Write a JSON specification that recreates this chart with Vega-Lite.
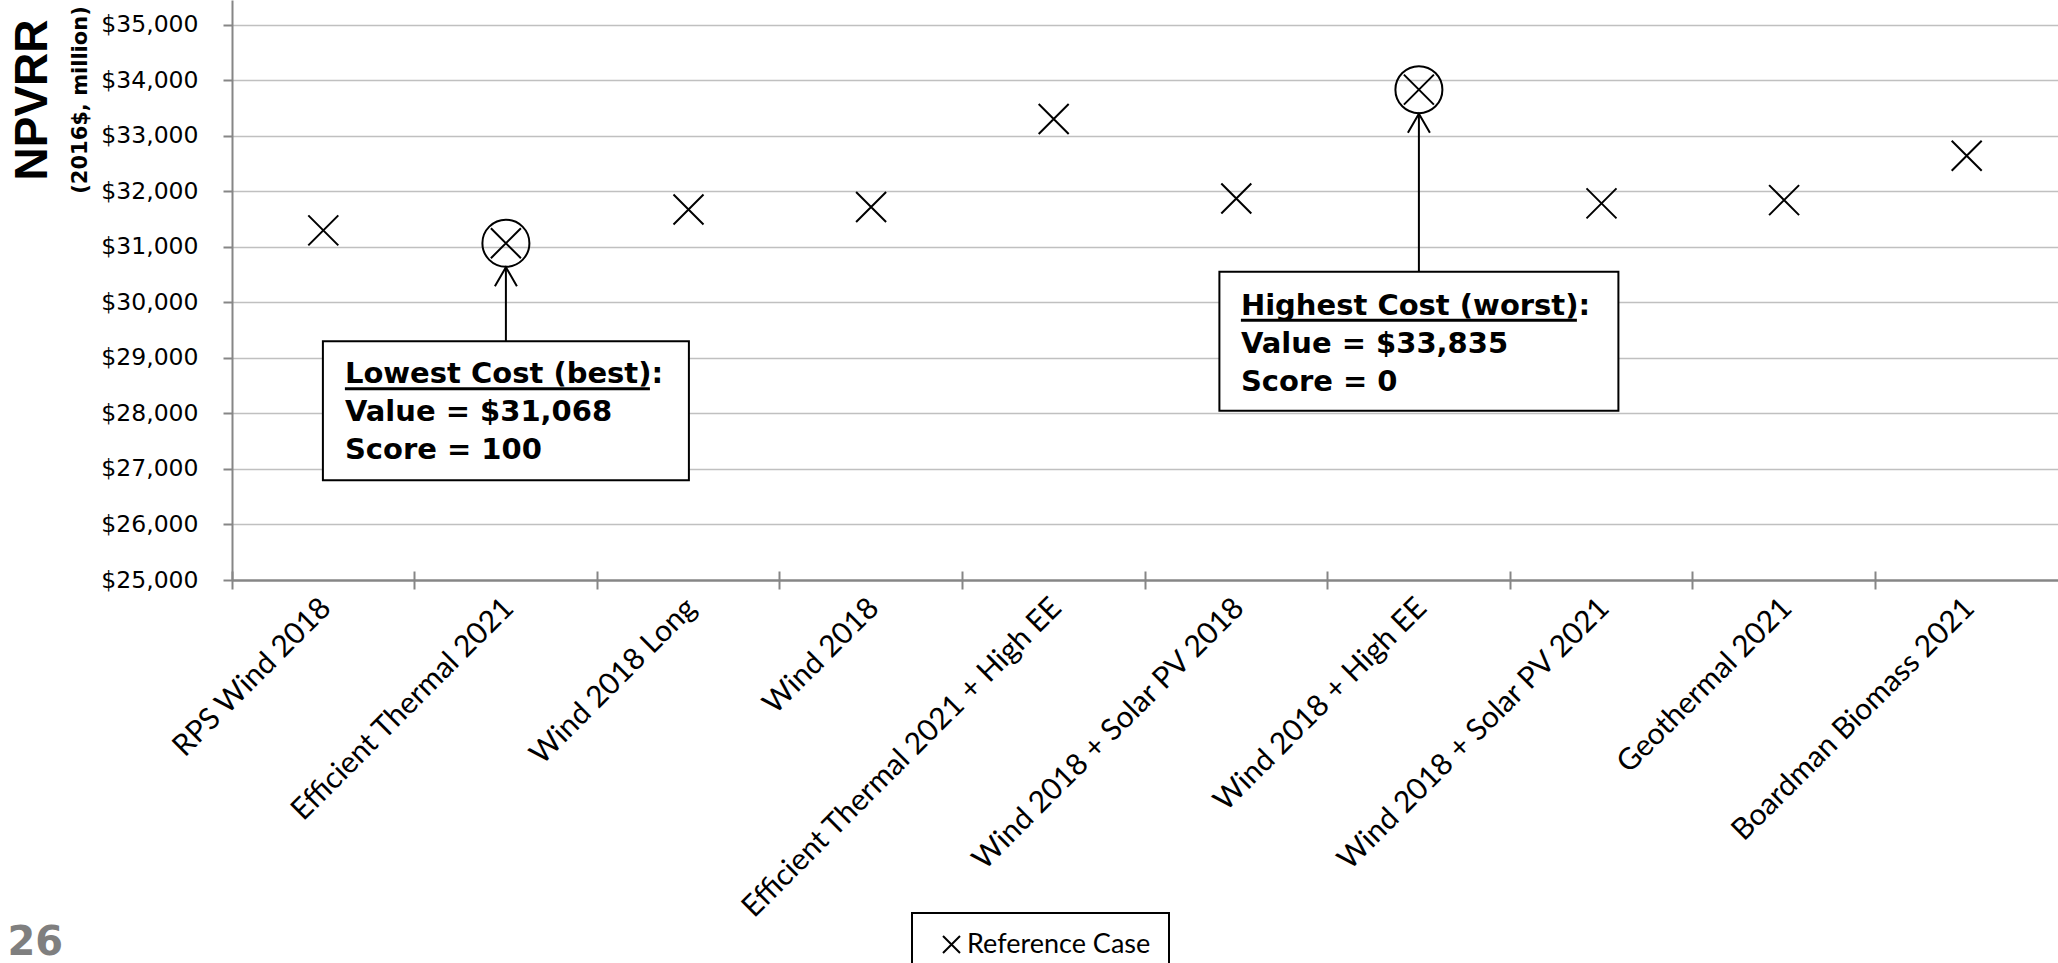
{
  "$schema": "https://vega.github.io/schema/vega-lite/v6.json",
  "width": 1826,
  "height": 580,
  "autosize": "none",
  "padding": {"left": 232, "top": 0, "right": 0, "bottom": 383},
  "background": "white",
  "config": {
    "view": {"stroke": null},
    "font": "DejaVu Sans",
    "legend": {"strokeWidth": 2}
  },
  "title": {
    "text": "NPVRR",
    "subtitle": "(2016$, million)",
    "orient": "left",
    "anchor": "middle",
    "frame": "group",
    "font": "Liberation Sans",
    "fontSize": 46,
    "fontWeight": "bold",
    "color": "black",
    "subtitleFont": "DejaVu Sans",
    "subtitleFontSize": 21,
    "subtitleFontWeight": "bold",
    "subtitleColor": "black",
    "subtitlePadding": 13,
    "offset": -85,
    "dx": 190
  },
  "data": {
    "values": [
      {"case": "RPS Wind 2018", "npvrr": 31300},
      {"case": "Efficient Thermal 2021", "npvrr": 31068},
      {"case": "Wind 2018 Long", "npvrr": 31675},
      {"case": "Wind 2018", "npvrr": 31720},
      {"case": "Efficient Thermal 2021 + High EE", "npvrr": 33305},
      {"case": "Wind 2018 + Solar PV 2018", "npvrr": 31875},
      {"case": "Wind 2018 + High EE", "npvrr": 33835},
      {"case": "Wind 2018 + Solar PV 2021", "npvrr": 31785},
      {"case": "Geothermal 2021", "npvrr": 31845},
      {"case": "Boardman Biomass 2021", "npvrr": 32645}
    ]
  },
  "encoding": {
    "x": {
      "field": "case",
      "type": "nominal",
      "sort": null,
      "scale": {"paddingInner": 0, "paddingOuter": 0},
      "axis": {
        "bandPosition": 0,
        "offset": -9,
        "domain": false,
        "grid": false,
        "tickSize": 18,
        "tickColor": "#868686",
        "tickWidth": 2,
        "labelAngle": -45,
        "labelAlign": "right",
        "labelBaseline": "middle",
        "labelFont": "Lato",
        "labelFontSize": 30,
        "labelColor": "black",
        "labelPadding": 14,
        "labelOffset": 3,
        "labelLimit": 1000,
        "labelOverlap": false,
        "labelBound": false,
        "title": "26",
        "titleX": -225,
        "titleY": 383,
        "titleAlign": "left",
        "titleAngle": 0,
        "titleBaseline": "alphabetic",
        "titleFont": "DejaVu Sans",
        "titleFontSize": 40,
        "titleFontWeight": "bold",
        "titleColor": "#7f7f7f"
      }
    },
    "y": {
      "field": "npvrr",
      "type": "quantitative",
      "scale": {"domain": [25000, 35450], "nice": false, "zero": false},
      "axis": {
        "title": null,
        "values": [25000, 26000, 27000, 28000, 29000, 30000, 31000, 32000, 33000, 34000, 35000],
        "format": "$,.0f",
        "labelFont": "DejaVu Sans",
        "labelFontSize": 23.5,
        "labelColor": "black",
        "labelPadding": 25,
        "tickSize": 9,
        "tickColor": "#868686",
        "tickWidth": 2,
        "domainColor": "#868686",
        "domainWidth": 2,
        "gridColor": {"condition": {"test": "datum.value === 25000", "value": "#868686"}, "value": "#c0c0c0"},
        "gridWidth": {"condition": {"test": "datum.value === 25000", "value": 2.5}, "value": 1.5}
      }
    }
  },
  "layer": [
    {
      "mark": {"type": "point", "filled": false, "stroke": "black", "strokeWidth": 2, "size": 900, "opacity": 1},
      "encoding": {
        "shape": {
          "datum": "Reference Case",
          "scale": {"range": ["M-1,-1L1,1M-1,1L1,-1"]},
          "legend": {
            "title": null,
            "orient": "none",
            "legendX": 680,
            "legendY": 913,
            "strokeColor": "black",
            "fillColor": "white",
            "padding": 18,
            "symbolSize": 289,
            "symbolStrokeWidth": 2,
            "symbolStrokeColor": "black",
            "symbolFillColor": "transparent",
            "symbolOffset": 8,
            "labelFont": "Lato",
            "labelFontSize": 27,
            "labelColor": "black",
            "labelOffset": 2,
            "labelLimit": 600
          }
        }
      }
    },
    {
      "transform": [
        {"joinaggregate": [
          {"op": "min", "field": "npvrr", "as": "lo"},
          {"op": "max", "field": "npvrr", "as": "hi"}
        ]},
        {"filter": "datum.npvrr === datum.lo || datum.npvrr === datum.hi"},
        {"calculate": "round(100 * (datum.hi - datum.npvrr) / (datum.hi - datum.lo))", "as": "score"},
        {"calculate": "[datum.npvrr === datum.lo ? 'Lowest Cost (best):' : 'Highest Cost (worst):', 'Value = ' + format(datum.npvrr, '$,.0f'), 'Score = ' + format(datum.score, 'd')]", "as": "lines"}
      ],
      "layer": [
        {
          "mark": {"type": "point", "shape": "circle", "filled": false, "stroke": "black", "strokeWidth": 2, "size": 2209, "opacity": 1}
        },
        {
          "mark": {"type": "point", "shape": "M-1,1.73L0,0L1,1.73", "filled": false, "stroke": "black", "strokeWidth": 2, "size": 484, "opacity": 1, "yOffset": 24}
        },
        {
          "transform": [{"filter": "datum.npvrr === datum.lo"}],
          "layer": [
            {
              "mark": {"type": "rule", "color": "black", "strokeWidth": 2, "yOffset": 24, "y2Offset": 98},
              "encoding": {"y2": {"field": "npvrr"}}
            },
            {
              "mark": {"type": "rect", "width": 366, "fill": "white", "stroke": "black", "strokeWidth": 2, "yOffset": 98, "y2Offset": 237},
              "encoding": {"y2": {"field": "npvrr"}}
            },
            {
              "mark": {"type": "text", "align": "left", "baseline": "alphabetic", "font": "DejaVu Sans", "fontWeight": "bold", "fontSize": 29, "lineHeight": 38, "color": "black", "dx": -161, "dy": 140},
              "encoding": {"text": {"field": "lines"}}
            },
            {
              "mark": {"type": "rect", "width": 305, "fill": "black", "xOffset": -8.5, "yOffset": 144, "y2Offset": 147},
              "encoding": {"y2": {"field": "npvrr"}}
            }
          ]
        },
        {
          "transform": [{"filter": "datum.npvrr === datum.hi"}],
          "layer": [
            {
              "mark": {"type": "rule", "color": "black", "strokeWidth": 2, "yOffset": 24, "y2Offset": 182},
              "encoding": {"y2": {"field": "npvrr"}}
            },
            {
              "mark": {"type": "rect", "width": 399, "fill": "white", "stroke": "black", "strokeWidth": 2, "yOffset": 182, "y2Offset": 321},
              "encoding": {"y2": {"field": "npvrr"}}
            },
            {
              "mark": {"type": "text", "align": "left", "baseline": "alphabetic", "font": "DejaVu Sans", "fontWeight": "bold", "fontSize": 29, "lineHeight": 38, "color": "black", "dx": -178, "dy": 225},
              "encoding": {"text": {"field": "lines"}}
            },
            {
              "mark": {"type": "rect", "width": 336, "fill": "black", "xOffset": -10, "yOffset": 229, "y2Offset": 232},
              "encoding": {"y2": {"field": "npvrr"}}
            }
          ]
        }
      ]
    }
  ]
}
